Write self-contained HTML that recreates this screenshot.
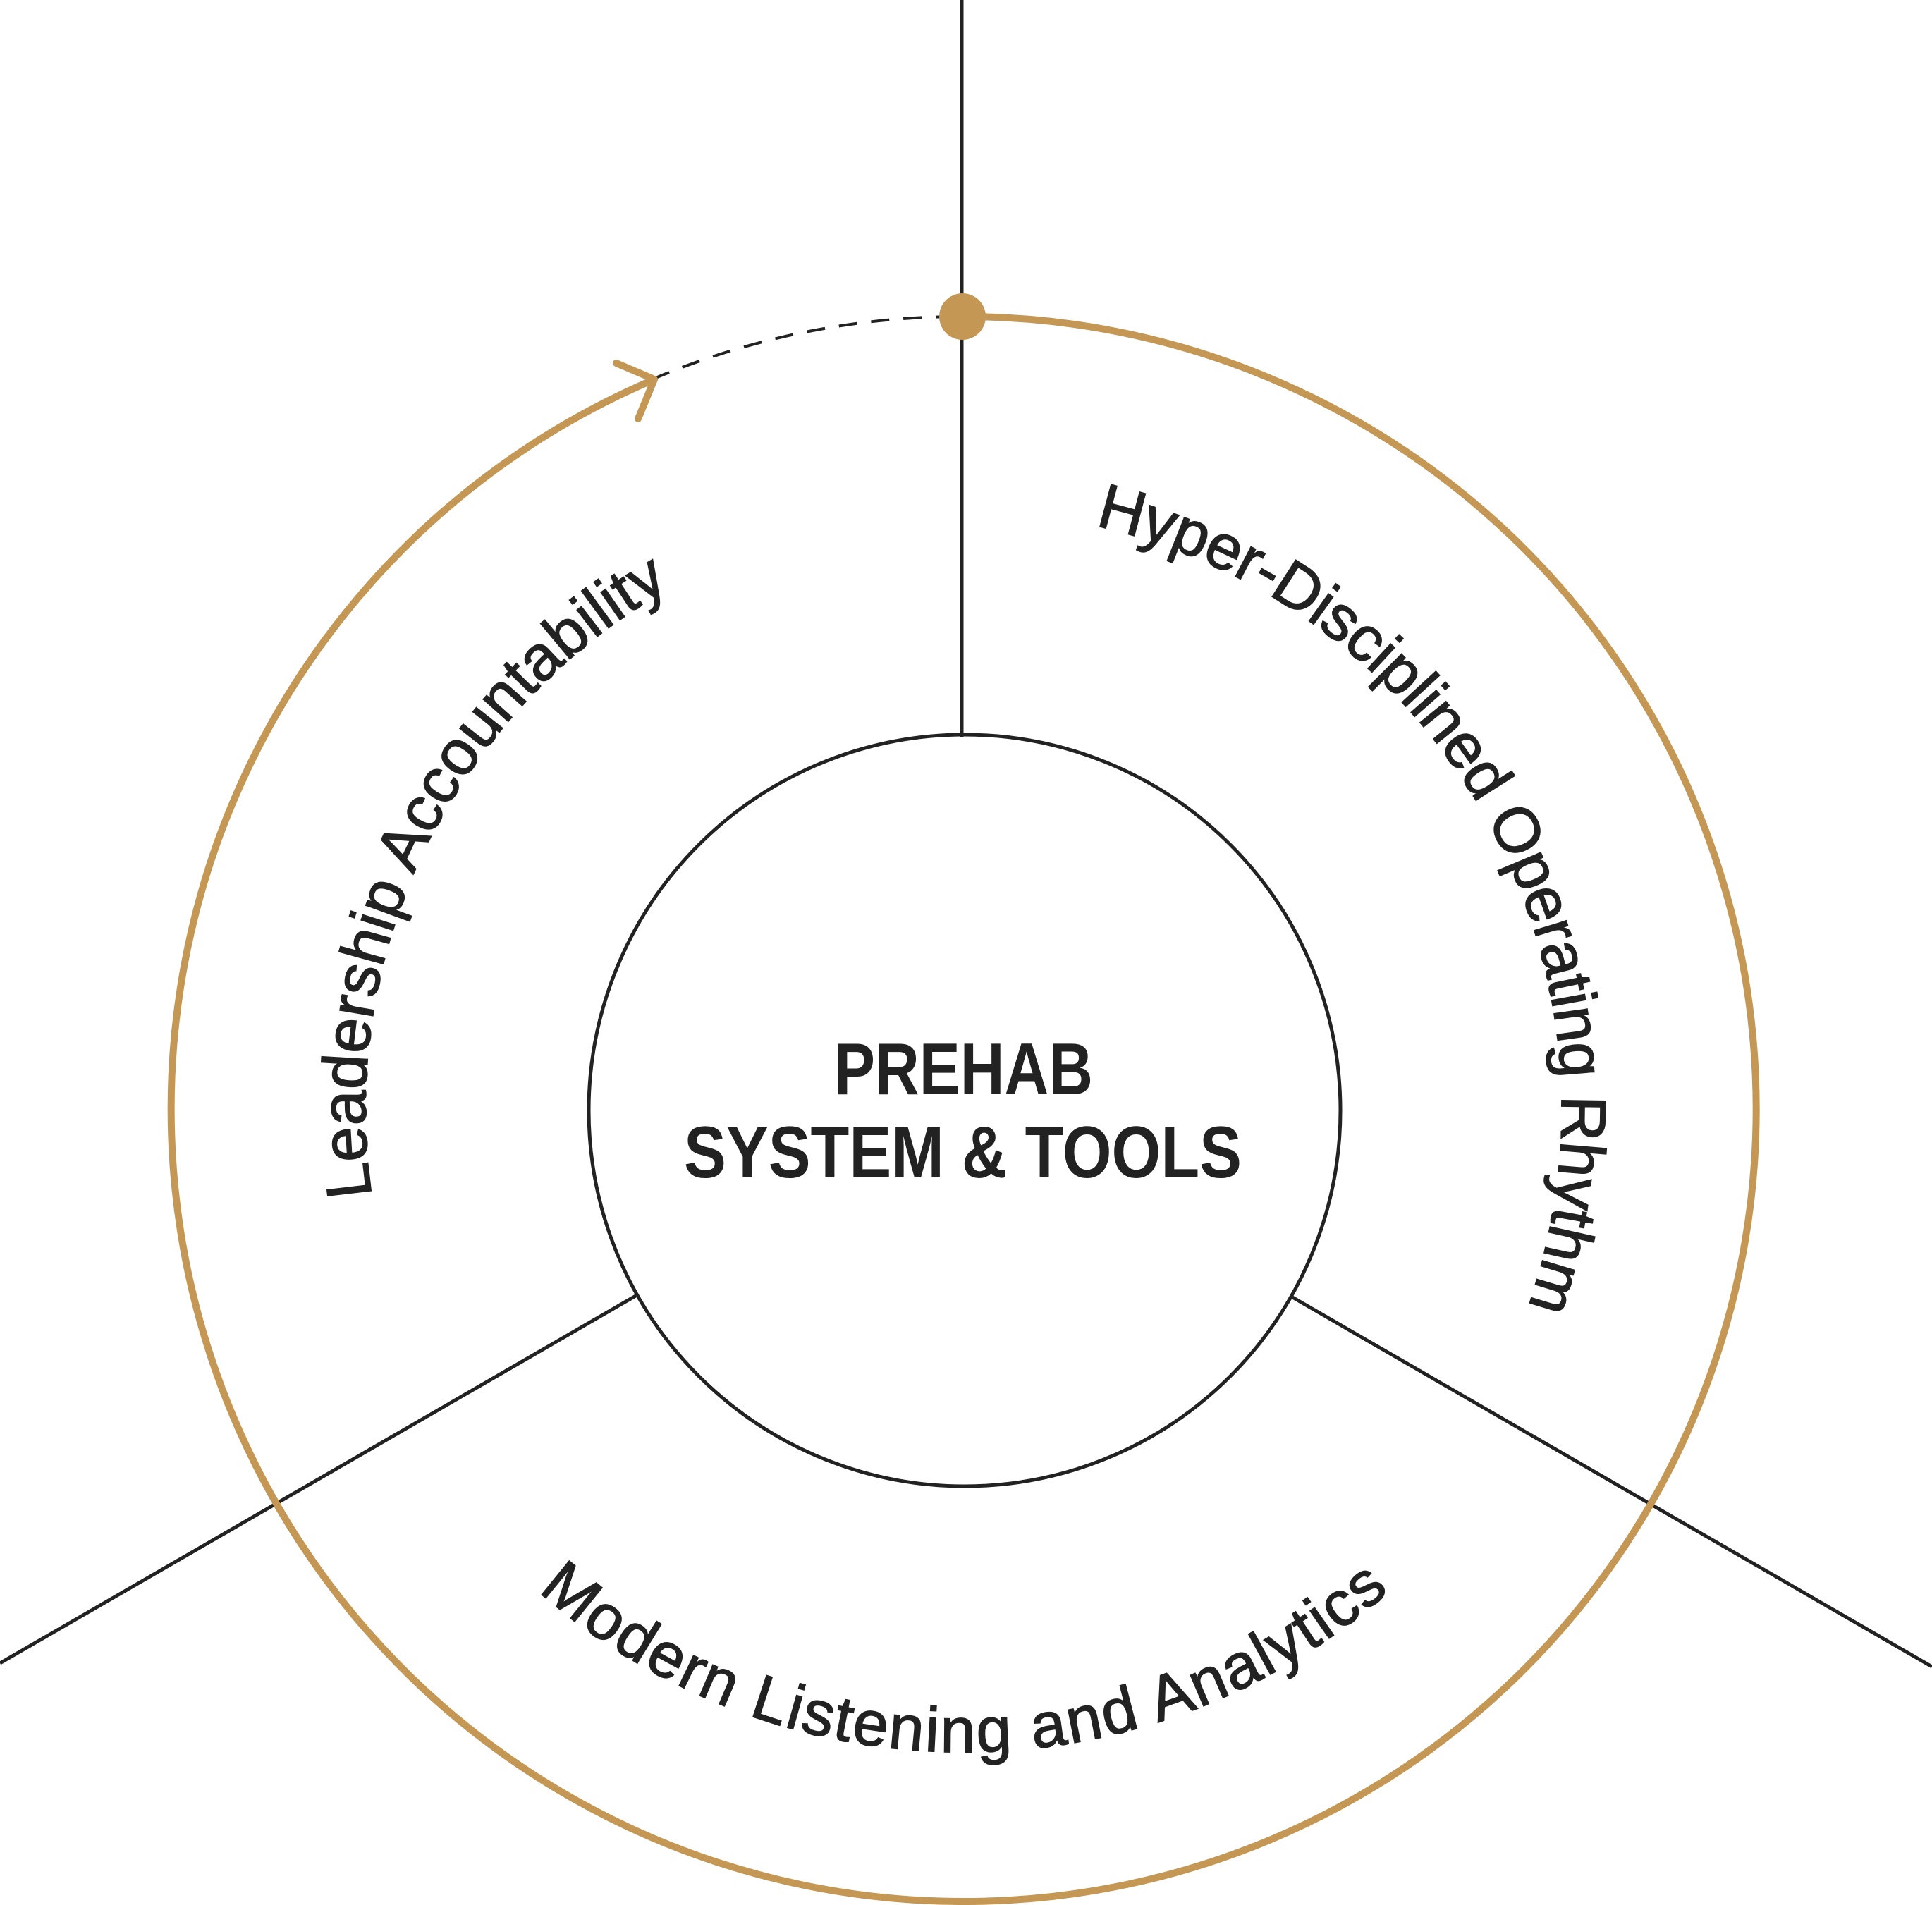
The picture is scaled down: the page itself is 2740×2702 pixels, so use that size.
<!DOCTYPE html>
<html><head><meta charset="utf-8"><style>html,body{margin:0;padding:0;background:#fff}svg{display:block}</style></head>
<body>
<svg width="2740" height="2702" viewBox="0 0 2740 2702" xmlns="http://www.w3.org/2000/svg">
<defs>
<path id="pL" d="M632,1997 A848,848 0 0 1 1220,738"/>
<path id="pH" d="M1367,725 A848,848 0 0 1 2086,2022"/>
<path id="pM" d="M577,2029 A912,912 0 0 0 2157,2029"/>
</defs>
<g stroke="#222" stroke-width="5" fill="none">
<line x1="1364" y1="0" x2="1364" y2="1045"/>
<line x1="905" y1="1836" x2="0" y2="2359"/>
<line x1="1833" y1="1840" x2="2740" y2="2364"/>
<circle cx="1368" cy="1575" r="533"/>
<path d="M925,538 A1124,1124 0 0 1 1367,449" stroke-dasharray="26,20" stroke-width="4"/>
</g>
<g stroke="#c49754" stroke-width="10" fill="none" stroke-linecap="round">
<path d="M1367,449 A1124,1124 0 1 1 919,542"/>
<polyline points="874,515 928,538 905,594" stroke-linejoin="round"/>
</g>
<circle cx="1365" cy="449" r="33" fill="#c49754"/>
<g font-family="Liberation Sans, sans-serif" font-size="90" fill="#222" stroke="#222" stroke-width="1.5">
<text><textPath href="#pL" startOffset="51%" text-anchor="middle" textLength="1020">Leadership Accountability</textPath></text>
<text><textPath href="#pH" startOffset="50%" text-anchor="middle" textLength="1430">Hyper-Disciplined Operating Rhythm</textPath></text>
<text><textPath href="#pM" startOffset="50%" text-anchor="middle" textLength="1320">Modern Listening and Analytics</textPath></text>
</g>
<g font-family="Liberation Sans, sans-serif" font-weight="bold" font-size="104" fill="#222">
<text x="1183" y="1552" textLength="367" lengthAdjust="spacingAndGlyphs">PREHAB</text>
<text x="970" y="1670" textLength="791" lengthAdjust="spacingAndGlyphs">SYSTEM &amp; TOOLS</text>
</g>
</svg>
</body></html>
